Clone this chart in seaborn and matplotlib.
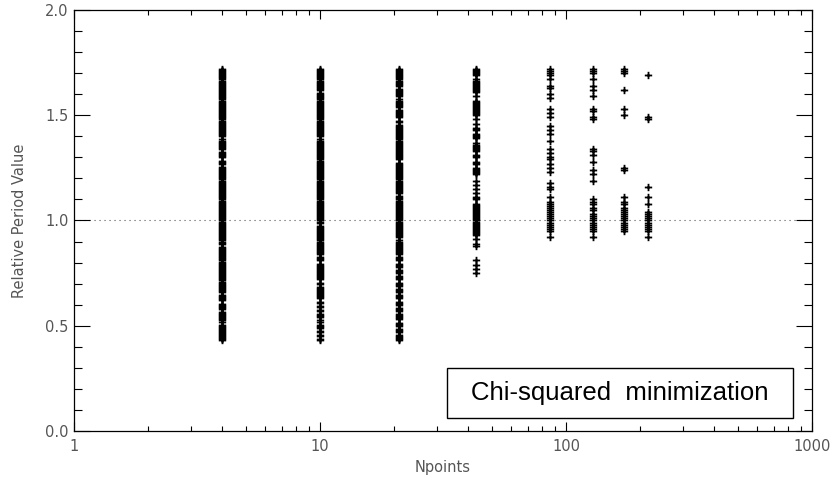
import pandas as pd
import matplotlib
matplotlib.use('Agg')
import matplotlib.pyplot as plt
import matplotlib.ticker as mticker
from matplotlib.patches import Rectangle
import seaborn as sns

# relative period values, one list per Npoints column
# (the first columns are near-continuous bands of crosses)
npoints = [4, 10, 21, 43, 86, 129, 172, 215]

period_4 = [
    1.720, 1.715, 1.710, 1.705, 1.700, 1.695, 1.690, 1.685, 1.680, 1.675, 1.670, 1.665, 1.660, 1.655,
    1.650, 1.645, 1.640, 1.635, 1.630, 1.625, 1.620, 1.615, 1.610, 1.605, 1.600, 1.595, 1.590, 1.585,
    1.580, 1.575, 1.570, 1.565, 1.560, 1.555, 1.550, 1.545, 1.540, 1.535, 1.530, 1.525, 1.520, 1.515,
    1.510, 1.505, 1.500, 1.495, 1.490, 1.485, 1.480, 1.475, 1.470, 1.465, 1.460, 1.455, 1.450, 1.445,
    1.440, 1.435, 1.430, 1.425, 1.420, 1.415, 1.410, 1.405, 1.400, 1.385, 1.380, 1.375, 1.370, 1.365,
    1.360, 1.355, 1.350, 1.345, 1.340, 1.325, 1.320, 1.315, 1.310, 1.305, 1.300, 1.285, 1.280, 1.275,
    1.270, 1.255, 1.250, 1.245, 1.240, 1.235, 1.230, 1.225, 1.220, 1.215, 1.210, 1.205, 1.200, 1.195,
    1.190, 1.185, 1.180, 1.175, 1.170, 1.165, 1.160, 1.155, 1.150, 1.145, 1.140, 1.135, 1.130, 1.125,
    1.120, 1.115, 1.110, 1.105, 1.100, 1.095, 1.090, 1.085, 1.080, 1.075, 1.070, 1.065, 1.060, 1.055,
    1.050, 1.045, 1.040, 1.035, 1.030, 1.025, 1.020, 1.015, 1.010, 1.005, 1.000, 0.995, 0.990, 0.985,
    0.980, 0.975, 0.970, 0.965, 0.960, 0.955, 0.950, 0.945, 0.940, 0.935, 0.930, 0.925, 0.920, 0.915,
    0.910, 0.905, 0.900, 0.895, 0.890, 0.875, 0.870, 0.865, 0.860, 0.855, 0.850, 0.845, 0.840, 0.835,
    0.830, 0.825, 0.820, 0.815, 0.810, 0.805, 0.800, 0.795, 0.790, 0.785, 0.780, 0.775, 0.770, 0.765,
    0.760, 0.755, 0.750, 0.745, 0.740, 0.735, 0.730, 0.725, 0.720, 0.715, 0.710, 0.705, 0.700, 0.695,
    0.690, 0.685, 0.680, 0.675, 0.670, 0.665, 0.660, 0.645, 0.640, 0.635, 0.630, 0.625, 0.620, 0.605,
    0.600, 0.595, 0.590, 0.585, 0.580, 0.565, 0.560, 0.555, 0.550, 0.545, 0.540, 0.535, 0.530, 0.525,
    0.520, 0.505, 0.500, 0.495, 0.490, 0.485, 0.480, 0.475, 0.470, 0.465, 0.460, 0.455, 0.450, 0.445,
    0.440, 0.435, 0.430]
period_10 = [
    1.720, 1.715, 1.710, 1.705, 1.700, 1.695, 1.690, 1.685, 1.680, 1.675, 1.670, 1.665, 1.660, 1.655,
    1.650, 1.645, 1.640, 1.635, 1.630, 1.625, 1.620, 1.605, 1.600, 1.595, 1.590, 1.585, 1.580, 1.575,
    1.570, 1.565, 1.560, 1.555, 1.550, 1.545, 1.540, 1.535, 1.530, 1.525, 1.520, 1.515, 1.510, 1.505,
    1.500, 1.495, 1.490, 1.485, 1.480, 1.475, 1.470, 1.465, 1.460, 1.455, 1.450, 1.445, 1.440, 1.435,
    1.430, 1.425, 1.420, 1.415, 1.410, 1.405, 1.400, 1.385, 1.380, 1.375, 1.370, 1.365, 1.360, 1.355,
    1.350, 1.345, 1.340, 1.335, 1.330, 1.325, 1.320, 1.315, 1.310, 1.305, 1.300, 1.295, 1.290, 1.285,
    1.280, 1.275, 1.270, 1.265, 1.260, 1.255, 1.250, 1.245, 1.240, 1.235, 1.230, 1.225, 1.220, 1.215,
    1.210, 1.205, 1.200, 1.195, 1.190, 1.185, 1.180, 1.175, 1.170, 1.165, 1.160, 1.155, 1.150, 1.145,
    1.140, 1.135, 1.130, 1.125, 1.120, 1.115, 1.110, 1.105, 1.100, 1.095, 1.090, 1.085, 1.080, 1.075,
    1.070, 1.065, 1.060, 1.055, 1.050, 1.045, 1.040, 1.035, 1.030, 1.025, 1.020, 1.015, 1.010, 1.005,
    1.000, 0.995, 0.990, 0.975, 0.970, 0.965, 0.960, 0.955, 0.950, 0.945, 0.940, 0.935, 0.930, 0.925,
    0.920, 0.915, 0.910, 0.905, 0.900, 0.895, 0.890, 0.885, 0.880, 0.875, 0.870, 0.865, 0.860, 0.855,
    0.850, 0.845, 0.840, 0.825, 0.820, 0.815, 0.810, 0.795, 0.790, 0.785, 0.780, 0.775, 0.770, 0.765,
    0.760, 0.755, 0.750, 0.745, 0.740, 0.735, 0.730, 0.725, 0.720, 0.705, 0.700, 0.685, 0.680, 0.675,
    0.670, 0.665, 0.660, 0.655, 0.650, 0.645, 0.640, 0.635, 0.630, 0.615, 0.610, 0.595, 0.590, 0.575,
    0.570, 0.555, 0.550, 0.545, 0.540, 0.525, 0.520, 0.505, 0.500, 0.495, 0.490, 0.475, 0.470, 0.455,
    0.450, 0.435, 0.430]
period_21 = [
    1.720, 1.715, 1.710, 1.705, 1.700, 1.695, 1.690, 1.685, 1.680, 1.675, 1.670, 1.665, 1.660, 1.655,
    1.650, 1.645, 1.640, 1.625, 1.620, 1.615, 1.610, 1.605, 1.600, 1.595, 1.590, 1.575, 1.570, 1.565,
    1.560, 1.555, 1.550, 1.545, 1.540, 1.525, 1.520, 1.515, 1.510, 1.505, 1.500, 1.495, 1.490, 1.475,
    1.470, 1.455, 1.450, 1.445, 1.440, 1.435, 1.430, 1.425, 1.420, 1.415, 1.410, 1.405, 1.400, 1.395,
    1.390, 1.385, 1.380, 1.375, 1.370, 1.365, 1.360, 1.355, 1.350, 1.345, 1.340, 1.335, 1.330, 1.325,
    1.320, 1.315, 1.310, 1.305, 1.300, 1.295, 1.290, 1.275, 1.270, 1.265, 1.260, 1.255, 1.250, 1.245,
    1.240, 1.235, 1.230, 1.225, 1.220, 1.215, 1.210, 1.205, 1.200, 1.195, 1.190, 1.185, 1.180, 1.175,
    1.170, 1.165, 1.160, 1.155, 1.150, 1.145, 1.140, 1.135, 1.130, 1.115, 1.110, 1.105, 1.100, 1.095,
    1.090, 1.085, 1.080, 1.075, 1.070, 1.065, 1.060, 1.055, 1.050, 1.045, 1.040, 1.035, 1.030, 1.025,
    1.020, 1.015, 1.010, 1.005, 1.000, 0.995, 0.990, 0.985, 0.980, 0.975, 0.970, 0.965, 0.960, 0.955,
    0.950, 0.945, 0.940, 0.935, 0.930, 0.925, 0.920, 0.905, 0.900, 0.895, 0.890, 0.885, 0.880, 0.875,
    0.870, 0.865, 0.860, 0.855, 0.850, 0.845, 0.840, 0.825, 0.820, 0.815, 0.810, 0.795, 0.790, 0.785,
    0.780, 0.765, 0.760, 0.755, 0.750, 0.735, 0.730, 0.725, 0.720, 0.705, 0.700, 0.695, 0.690, 0.675,
    0.670, 0.665, 0.660, 0.645, 0.640, 0.635, 0.630, 0.615, 0.610, 0.605, 0.600, 0.585, 0.580, 0.575,
    0.570, 0.555, 0.550, 0.545, 0.540, 0.535, 0.530, 0.515, 0.510, 0.505, 0.500, 0.485, 0.480, 0.475,
    0.470, 0.455, 0.450, 0.445, 0.440, 0.435, 0.430]
period_43 = [
    1.720, 1.715, 1.710, 1.705, 1.700, 1.695, 1.690, 1.670, 1.665, 1.660, 1.655, 1.650, 1.645, 1.640,
    1.635, 1.630, 1.625, 1.620, 1.615, 1.610, 1.590, 1.570, 1.565, 1.560, 1.555, 1.550, 1.545, 1.540,
    1.535, 1.530, 1.525, 1.520, 1.515, 1.510, 1.505, 1.500, 1.480, 1.460, 1.440, 1.435, 1.430, 1.410,
    1.405, 1.400, 1.395, 1.390, 1.370, 1.360, 1.355, 1.350, 1.345, 1.340, 1.335, 1.330, 1.310, 1.305,
    1.300, 1.280, 1.275, 1.270, 1.250, 1.245, 1.240, 1.235, 1.230, 1.225, 1.220, 1.190, 1.170, 1.150,
    1.130, 1.110, 1.105, 1.100, 1.080, 1.075, 1.070, 1.065, 1.060, 1.055, 1.050, 1.045, 1.040, 1.035,
    1.030, 1.025, 1.020, 1.015, 1.010, 1.005, 1.000, 0.995, 0.990, 0.985, 0.980, 0.975, 0.970, 0.965,
    0.960, 0.955, 0.950, 0.945, 0.940, 0.935, 0.930, 0.910, 0.890, 0.880, 0.810, 0.790, 0.770, 0.750]
period_86 = [
    1.72, 1.71, 1.70, 1.69, 1.67, 1.64, 1.63, 1.60, 1.58, 1.53, 1.51, 1.49, 1.45, 1.43, 1.41, 1.38,
    1.34, 1.32, 1.30, 1.29, 1.27, 1.25, 1.23, 1.18, 1.16, 1.15, 1.11, 1.09, 1.08, 1.07, 1.06, 1.05,
    1.04, 1.03, 1.02, 1.01, 1.00, 0.99, 0.98, 0.97, 0.96, 0.95, 0.92]
period_129 = [
    1.72, 1.71, 1.70, 1.67, 1.64, 1.62, 1.59, 1.53, 1.52, 1.49, 1.48, 1.34, 1.33, 1.31, 1.28, 1.24,
    1.22, 1.19, 1.10, 1.09, 1.08, 1.06, 1.05, 1.03, 1.02, 1.01, 1.00, 0.99, 0.98, 0.97, 0.96, 0.95,
    0.92]
period_172 = [
    1.72, 1.71, 1.70, 1.62, 1.53, 1.50, 1.25, 1.24, 1.11, 1.09, 1.08, 1.06, 1.05, 1.04, 1.03, 1.02,
    1.01, 1.00, 0.99, 0.98, 0.97, 0.96, 0.95]
period_215 = [
    1.69, 1.49, 1.48, 1.16, 1.11, 1.08, 1.04, 1.03, 1.02, 1.01, 1.00, 0.99, 0.98, 0.97, 0.96, 0.95,
    0.92]

columns = [period_4, period_10, period_21, period_43, period_86, period_129, period_172, period_215]

df = pd.concat([pd.DataFrame({'npoints': n, 'period': vals}) for n, vals in zip(npoints, columns)],
               ignore_index=True)

sns.set_style('ticks')
plt.rcParams['font.family'] = ['DejaVu Sans']

fig = plt.figure(figsize=(8.35, 4.95), dpi=100)
ax = fig.add_axes([0.0886, 0.1293, 0.8839, 0.8505])

sns.scatterplot(data=df, x='npoints', y='period', marker='+', color='black',
                s=28, ax=ax, legend=False)
# seaborn picks a very thin stroke for '+', set it by hand
for coll in ax.collections:
    coll.set_linewidth(1.3)
    coll.set_edgecolor('black')
    coll.set_snap(False)

ax.axhline(1.0, color='#555555', lw=0.8, ls=(0, (1, 3.5)), zorder=0)

ax.set_xscale('log')
ax.set_xlim(1, 1000)
ax.set_ylim(0, 2)
ax.xaxis.set_major_locator(mticker.FixedLocator([1, 10, 100, 1000]))
ax.xaxis.set_major_formatter(mticker.FixedFormatter(['1', '10', '100', '1000']))
ax.xaxis.set_minor_locator(mticker.LogLocator(base=10, subs=range(2, 10)))
ax.xaxis.set_minor_formatter(mticker.NullFormatter())
ax.yaxis.set_major_locator(mticker.MultipleLocator(0.5))
ax.yaxis.set_minor_locator(mticker.MultipleLocator(0.1))
ax.yaxis.set_major_formatter(mticker.FormatStrFormatter('%.1f'))

ax.tick_params(axis='both', which='both', direction='in', top=True, right=True,
               color='black', width=0.8, labelcolor='#555555', labelsize=10.5)
ax.tick_params(axis='x', which='major', length=6.5, pad=6)
ax.tick_params(axis='x', which='minor', length=3.6)
ax.tick_params(axis='y', which='major', length=11.5, pad=4)
ax.tick_params(axis='y', which='minor', length=5.8)
for sp in ax.spines.values():
    sp.set_linewidth(0.9)
    sp.set_color('black')

ax.set_xlabel('Npoints', fontsize=10.5, color='#555555', labelpad=4)
ax.set_ylabel('Relative Period Value', fontsize=10.5, color='#555555', labelpad=13)

# annotation box in the lower right corner
ax.add_patch(Rectangle((0.5054, 0.0309), 0.4688, 0.1188, transform=ax.transAxes,
                       facecolor='white', edgecolor='black', linewidth=1.0, zorder=3))
ax.text(0.7395, 0.0903, 'Chi-squared  minimization', transform=ax.transAxes,
        ha='center', va='center', fontsize=18.5, family='Liberation Sans', color='black', zorder=4)

fig.savefig('out.png', dpi=100)
